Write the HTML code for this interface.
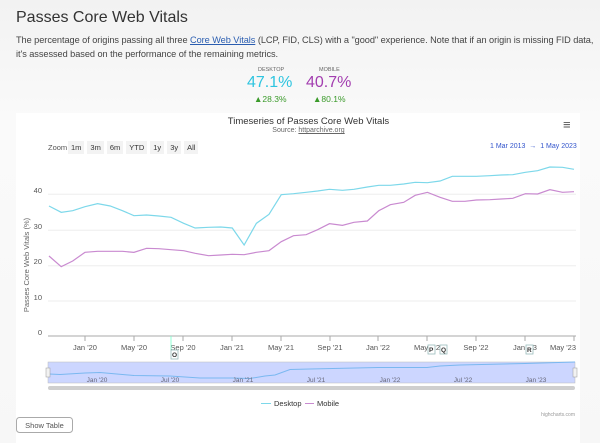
<!DOCTYPE html>
<html><head><meta charset="utf-8"><style>
body{margin:0;width:600px;height:443px;background:linear-gradient(#f2f2f2,#fafafa 120px,#f7f7f7);font-family:"Liberation Sans",sans-serif;position:relative;overflow:hidden}
.a{position:absolute;white-space:nowrap}
</style></head><body>
<div class="a" style="left:16px;top:9px;font-size:16px;color:#333">Passes Core Web Vitals</div>
<div class="a" style="left:16px;top:33px;font-size:9.2px;line-height:14px;color:#444;white-space:normal;width:582px;letter-spacing:-0.05px">The percentage of origins passing all three <span style="color:#2a5db0;text-decoration:underline">Core Web Vitals</span> (LCP, FID, CLS) with a "good" experience. Note that if an origin is missing FID data, it's assessed based on the performance of the remaining metrics.</div>
<div class="a" style="left:258px;top:67px;font-size:5.5px;color:#666">DESKTOP</div>
<div class="a" style="left:319px;top:67px;font-size:5.5px;color:#666">MOBILE</div>
<div class="a" style="left:247px;top:74px;font-size:16px;color:#2ec5e0">47.1%</div>
<div class="a" style="left:306px;top:74px;font-size:16px;color:#a33eb0">40.7%</div>
<div class="a" style="left:254px;top:94px;font-size:8.5px;color:#3a9a2a">▲28.3%</div>
<div class="a" style="left:313px;top:94px;font-size:8.5px;color:#3a9a2a">▲80.1%</div>
<div class="a" style="left:16px;top:113px;width:564px;height:330px;background:#fff"></div>
<div class="a" style="left:210px;top:116px;width:197px;text-align:center;font-size:9.5px;color:#333">Timeseries of Passes Core Web Vitals</div>
<div class="a" style="left:210px;top:127px;width:197px;text-align:center;font-size:7px;color:#666">Source: <u>httparchive.org</u></div>
<div class="a" style="left:563px;top:117px;font-size:13px;color:#555">≡</div>
<div class="a" style="left:48px;top:143px;font-size:7.5px;color:#555">Zoom</div>
<div class="a" style="top:141px;left:68px;font-size:7.5px;color:#333;display:flex;gap:3px">
<span style="background:#f3f3f3;padding:2px 3px">1m</span><span style="background:#f3f3f3;padding:2px 3px">3m</span><span style="background:#f3f3f3;padding:2px 3px">6m</span><span style="background:#f3f3f3;padding:2px 3px">YTD</span><span style="background:#f3f3f3;padding:2px 3px">1y</span><span style="background:#f3f3f3;padding:2px 3px">3y</span><span style="background:#f3f3f3;padding:2px 3px">All</span></div>
<div class="a" style="left:490px;top:143px;font-size:7px;color:#3355cc">1 Mar 2013 &nbsp;→ &nbsp;1 May 2023</div>
<svg class="a" style="left:0;top:0" width="600" height="443">
<g stroke="#eee" stroke-width="1">
<line x1="48" x2="576" y1="194.3" y2="194.3"/><line x1="48" x2="576" y1="230.3" y2="230.3"/><line x1="48" x2="576" y1="265.7" y2="265.7"/><line x1="48" x2="576" y1="301" y2="301"/></g>
<line x1="48" x2="576" y1="336" y2="336" stroke="#aaa"/>
<g font-size="7.5" fill="#555" text-anchor="end"><text x="42" y="193">40</text><text x="42" y="229">30</text><text x="42" y="264">20</text><text x="42" y="300">10</text><text x="42" y="335">0</text></g>
<text transform="translate(29,265) rotate(-90)" font-size="7.5" fill="#666" text-anchor="middle">Passes Core Web Vitals (%)</text>
<g stroke="#aaa"><line x1="85" x2="85" y1="336" y2="341"/><line x1="134" x2="134" y1="336" y2="341"/><line x1="183" x2="183" y1="336" y2="341"/><line x1="232" x2="232" y1="336" y2="341"/><line x1="281" x2="281" y1="336" y2="341"/><line x1="330" x2="330" y1="336" y2="341"/><line x1="378" x2="378" y1="336" y2="341"/><line x1="427" x2="427" y1="336" y2="341"/><line x1="476" x2="476" y1="336" y2="341"/><line x1="525" x2="525" y1="336" y2="341"/><line x1="574" x2="574" y1="336" y2="341"/></g>
<g font-size="7.5" fill="#555" text-anchor="middle"><text x="85" y="350">Jan '20</text><text x="134" y="350">May '20</text><text x="183" y="350">Sep '20</text><text x="232" y="350">Jan '21</text><text x="281" y="350">May '21</text><text x="330" y="350">Sep '21</text><text x="378" y="350">Jan '22</text><text x="427" y="350">May '22</text><text x="476" y="350">Sep '22</text><text x="525" y="350">Jan '23</text><text x="563" y="350">May '23</text></g>
<g stroke="#99bbbb" fill="#fff" stroke-width="0.8"><line x1="171" x2="171" y1="336" y2="350" stroke="#7fc"/><rect x="171" y="350" width="7" height="9"/><rect x="428" y="345" width="7" height="9"/><rect x="440" y="345" width="7" height="9"/><rect x="526" y="345" width="7" height="9"/></g>
<g font-size="6.5" font-weight="bold" fill="#333"><text x="172" y="357">O</text><text x="429" y="352">P</text><text x="441" y="352">Q</text><text x="527" y="352">R</text></g>
<g transform="translate(0,160) scale(0.38265,0.33333)" fill="none" stroke-width="1.2">
<polyline vector-effect="non-scaling-stroke" stroke="#7dd8ea" points="128,138 160,157 190,152 222,140 255,131 288,138 320,152 350,167 383,165 415,168 447,172 480,190 510,204 545,202 577,201 607,204 638,255 670,190 703,163 735,104 767,101 800,97 830,93 861,88 895,91 925,88 960,81 990,76 1020,76 1055,72 1085,67 1117,68 1150,63 1182,49 1215,49 1245,49 1280,47 1310,45 1340,44 1373,37 1405,32 1437,21 1470,22 1500,28"/>
<polyline vector-effect="non-scaling-stroke" stroke="#c98ad0" points="128,288 160,320 190,303 222,277 255,274 288,274 320,274 350,277 383,265 415,266 447,269 480,272 510,280 545,287 577,285 607,283 638,284 670,277 703,272 735,245 767,227 800,224 830,209 861,191 895,196 925,187 960,183 990,152 1020,134 1055,127 1085,106 1117,97 1150,112 1182,124 1215,124 1245,120 1280,119 1310,117 1340,115 1373,101 1405,102 1437,89 1470,97 1500,95"/>
</g>
<rect x="48" y="362" width="527" height="21" fill="#ccd6ff" stroke="#bbb" stroke-width="0.5"/>
<polyline fill="none" stroke="#7ab8f0" stroke-width="1" points="49,374 60,374.5 85,373 100,372.5 134,375.5 170,376 200,378 232,378 250,378.5 265,376 275,375 290,369.5 310,369 378,367.5 427,367.5 440,366 460,365 525,363.5 575,362"/>
<g font-size="6.5" fill="#667" text-anchor="middle"><text x="97" y="382">Jan '20</text><text x="170" y="382">Jul '20</text><text x="243" y="382">Jan '21</text><text x="316" y="382">Jul '21</text><text x="390" y="382">Jan '22</text><text x="463" y="382">Jul '22</text><text x="536" y="382">Jan '23</text></g>
<rect x="46" y="368" width="4" height="9" fill="#f2f2f2" stroke="#999" stroke-width="0.5"/><rect x="573" y="368" width="4" height="9" fill="#f2f2f2" stroke="#999" stroke-width="0.5"/>
<rect x="48" y="386" width="527" height="4" rx="2" fill="#cfcfcf"/>
<line x1="261" x2="271" y1="403.5" y2="403.5" stroke="#7dd8ea"/><text x="274" y="406" font-size="7.5" fill="#333">Desktop</text>
<line x1="305" x2="314" y1="403.5" y2="403.5" stroke="#c98ad0"/><text x="317" y="406" font-size="7.5" fill="#333">Mobile</text>
<text x="575" y="416" font-size="5" fill="#999" text-anchor="end">highcharts.com</text>
<rect x="16.5" y="417.5" width="56" height="15" rx="3" fill="#fff" stroke="#aaa"/>
<text x="44.5" y="428" font-size="7.5" fill="#555" text-anchor="middle">Show Table</text>
</svg>
</body></html>
